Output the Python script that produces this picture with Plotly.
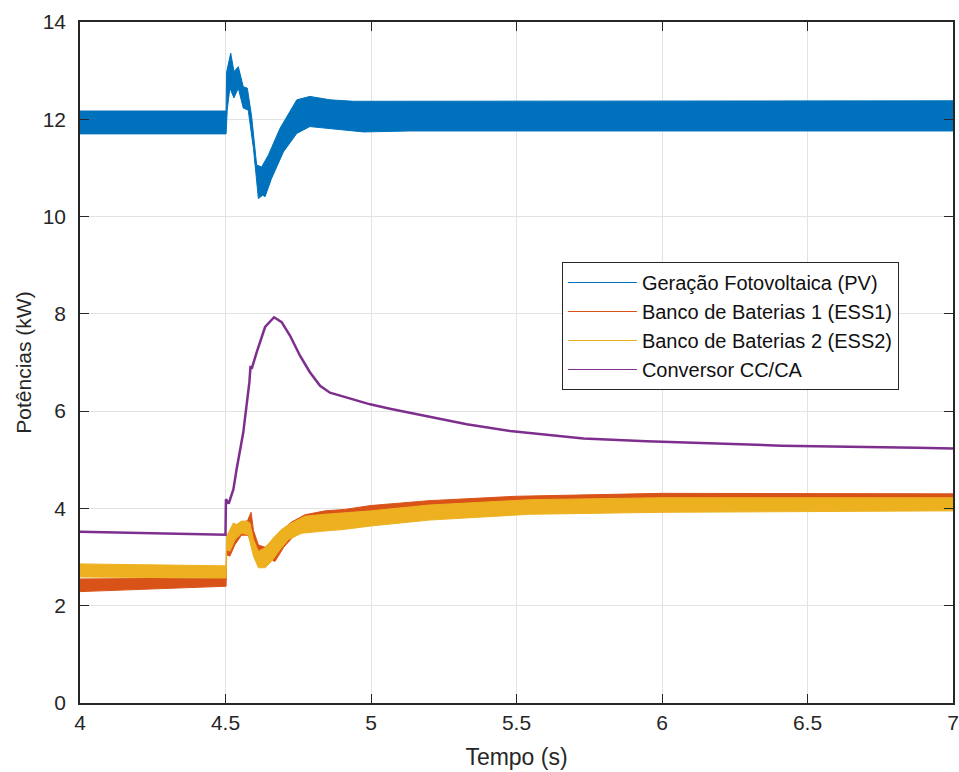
import plotly.graph_objects as go

# ---- Data ----
# PV generation band (upper / lower envelopes), kW
pv_t_up = [4.0, 4.502, 4.504, 4.518, 4.529, 4.544, 4.561, 4.575, 4.590, 4.607, 4.624, 4.647,
           4.687, 4.722, 4.745, 4.790, 4.859, 4.94, 5.03, 5.134, 5.5, 6.0, 6.5, 7.0]
pv_up = [12.17, 12.17, 12.98, 13.36, 12.98, 13.08, 12.67, 12.64, 12.05, 11.06, 11.02, 11.26,
         11.81, 12.16, 12.40, 12.47, 12.40, 12.37, 12.37, 12.37, 12.38, 12.38, 12.38, 12.38]
pv_t_lo = [4.0, 4.502, 4.506, 4.515, 4.529, 4.544, 4.561, 4.578, 4.596, 4.613, 4.628, 4.636,
           4.658, 4.699, 4.745, 4.790, 4.859, 4.974, 5.134, 5.5, 6.0, 6.5, 7.0]
pv_lo = [11.70, 11.70, 12.20, 12.64, 12.44, 12.64, 12.23, 12.19, 11.40, 10.37, 10.44, 10.41,
         10.78, 11.33, 11.71, 11.85, 11.81, 11.74, 11.76, 11.76, 11.76, 11.76, 11.76]

# Battery bank 1 (ESS1) band
ess1_t_up = [4.0, 4.502, 4.504, 4.515, 4.533, 4.555, 4.575, 4.588, 4.596, 4.613, 4.636, 4.664,
             4.693, 4.727, 4.773, 4.842, 4.91, 5.0, 5.2, 5.5, 6.0, 6.5, 7.0]
ess1_up = [2.55, 2.57, 3.36, 3.30, 3.55, 3.72, 3.74, 3.92, 3.55, 3.25, 3.20, 3.35,
           3.55, 3.72, 3.87, 3.95, 3.98, 4.06, 4.16, 4.25, 4.31, 4.31, 4.30]
ess1_t_lo = [4.0, 4.502, 4.504, 4.515, 4.533, 4.555, 4.578, 4.596, 4.613, 4.636, 4.67, 4.70,
             4.73, 4.77, 4.84, 4.91, 5.0, 5.2, 5.5, 6.0, 6.5, 7.0]
ess1_lo = [2.29, 2.40, 3.05, 3.02, 3.26, 3.45, 3.45, 3.19, 3.05, 3.00, 2.91, 3.20,
           3.40, 3.55, 3.62, 3.66, 3.72, 3.84, 3.96, 4.00, 4.00, 4.02]

# Battery bank 2 (ESS2) band
ess2_t_up = [4.0, 4.502, 4.504, 4.527, 4.538, 4.555, 4.573, 4.584, 4.596, 4.613, 4.636, 4.664,
             4.693, 4.727, 4.773, 4.842, 5.0, 5.2, 5.55, 6.0, 6.5, 7.0]
ess2_up = [2.86, 2.82, 3.43, 3.70, 3.67, 3.74, 3.74, 3.70, 3.36, 3.12, 3.19, 3.39,
           3.57, 3.70, 3.84, 3.88, 3.95, 4.07, 4.18, 4.22, 4.22, 4.22]
ess2_t_lo = [4.0, 4.502, 4.504, 4.515, 4.533, 4.555, 4.578, 4.596, 4.613, 4.636, 4.658, 4.687,
             4.716, 4.762, 4.83, 4.91, 5.0, 5.2, 5.546, 6.0, 6.5, 7.0]
ess2_lo = [2.59, 2.57, 3.15, 3.12, 3.36, 3.49, 3.46, 3.02, 2.78, 2.78, 2.91, 3.15,
           3.36, 3.49, 3.53, 3.57, 3.64, 3.76, 3.88, 3.92, 3.93, 3.95]

# DC/AC converter
conv_t = [4.0, 4.1, 4.2, 4.3, 4.4, 4.5, 4.5015, 4.506, 4.511, 4.527, 4.538, 4.561, 4.582, 4.586,
          4.590, 4.607, 4.636, 4.667, 4.693, 4.722, 4.756, 4.790, 4.825, 4.859, 4.916, 4.997,
          5.065, 5.134, 5.329, 5.478, 5.73, 5.947, 6.41, 6.875, 7.0]
conv_v = [3.52, 3.51, 3.49, 3.48, 3.47, 3.46, 4.19, 4.15, 4.10, 4.39, 4.80, 5.56, 6.59, 6.93,
          6.87, 7.21, 7.73, 7.93, 7.83, 7.55, 7.14, 6.80, 6.52, 6.38, 6.28, 6.14,
          6.05, 5.97, 5.73, 5.59, 5.44, 5.38, 5.29, 5.25, 5.23]

names = ["Geração Fotovoltaica (PV)", "Banco de Baterias 1 (ESS1)",
         "Banco de Baterias 2 (ESS2)", "Conversor CC/CA"]
colors = ["#0072BD", "#D95319", "#EDB120", "#7E2F8E"]

x_ticks = [4, 4.5, 5, 5.5, 6, 6.5, 7]
x_tick_labels = ["4", "4.5", "5", "5.5", "6", "6.5", "7"]
y_ticks = [0, 2, 4, 6, 8, 10, 12, 14]

FONT = "Liberation Sans, Arial, Helvetica, sans-serif"
TXT = "#262626"

fig = go.Figure()


def band(t_up, up, t_lo, lo, color):
    return go.Scatter(x=list(t_up) + list(t_lo)[::-1], y=list(up) + list(lo)[::-1],
                      fill="toself", fillcolor=color, mode="lines",
                      line=dict(color=color, width=1), showlegend=False, hoverinfo="skip")


fig.add_trace(band(pv_t_up, pv_up, pv_t_lo, pv_lo, colors[0]))
fig.add_trace(band(ess1_t_up, ess1_up, ess1_t_lo, ess1_lo, colors[1]))
fig.add_trace(band(ess2_t_up, ess2_up, ess2_t_lo, ess2_lo, colors[2]))
fig.add_trace(go.Scatter(x=conv_t, y=conv_v, mode="lines",
                         line=dict(color=colors[3], width=2.5), showlegend=False))

# legend entries (thin lines)
for n, c in zip(names, colors):
    fig.add_trace(go.Scatter(x=[None], y=[None], mode="lines", name=n,
                             line=dict(color=c, width=1.2)))

axis_common = dict(showline=True, linecolor=TXT, linewidth=1.5, mirror="allticks",
                   ticks="inside", ticklen=9, tickwidth=1.2, tickcolor=TXT,
                   showgrid=True, gridcolor="#e3e3e3", gridwidth=1, zeroline=False,
                   automargin=False, ticklabeloverflow="allow",
                   tickfont=dict(family=FONT, size=21, color=TXT))

fig.update_layout(
    width=959, height=772,
    margin=dict(l=80, r=6, t=22, b=69),
    paper_bgcolor="white", plot_bgcolor="white",
    font=dict(family=FONT, color=TXT),
    xaxis=dict(range=[4, 7], tickvals=x_ticks, ticktext=x_tick_labels,
               title=dict(text="Tempo (s)", font=dict(family=FONT, size=23, color=TXT),
                          standoff=16),
               **axis_common),
    yaxis=dict(range=[0, 14], tickvals=y_ticks, ticklabelstandoff=8,
               title=dict(text="Potências (kW)", font=dict(family=FONT, size=21, color=TXT),
                          standoff=5),
               **axis_common),
    legend=dict(x=0.552, y=0.6476, xanchor="left", yanchor="top",
                bgcolor="white", bordercolor=TXT, borderwidth=1,
                font=dict(family=FONT, size=20, color="#111111"),
                itemwidth=69, tracegroupgap=0),
)

fig.write_html("out.html", config={"displayModeBar": False},
               post_script="document.body.style.margin='0';")
